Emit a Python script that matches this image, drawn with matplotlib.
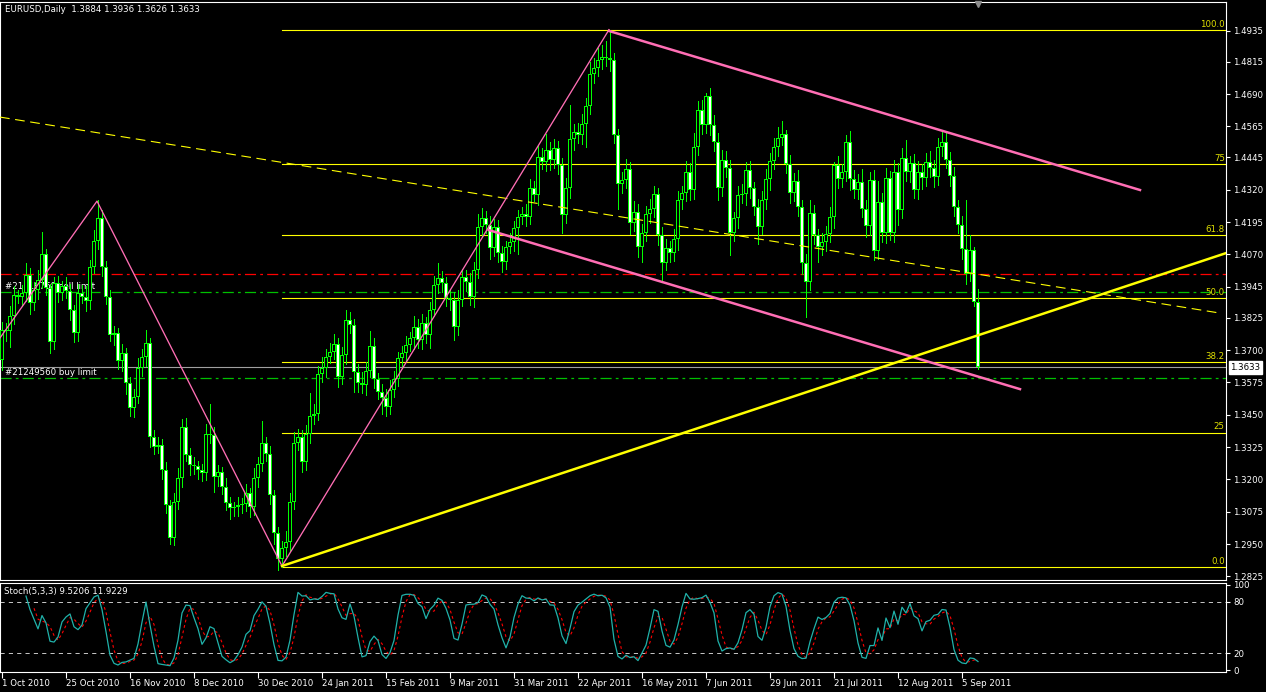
import numpy as np
import pandas as pd
import matplotlib
matplotlib.use("Agg")
import matplotlib.pyplot as plt
from matplotlib.transforms import blended_transform_factory

plt.rcParams['font.family'] = 'DejaVu Sans'
plt.rcParams['lines.scale_dashes'] = False

# daily EURUSD closes, 1 Oct 2010 .. 9 Sep 2011
closes = [
    1.3778, 1.3772, 1.3830, 1.3913, 1.3907, 1.3920, 1.3991, 1.3881, 1.3933, 1.3971,
    1.4072, 1.3939, 1.3733, 1.3958, 1.3920, 1.3946, 1.3930, 1.3855, 1.3765, 1.3920,
    1.3907, 1.3888, 1.4023, 1.4120, 1.4210, 1.4023, 1.3907, 1.3759, 1.3765, 1.3656,
    1.3688, 1.3572, 1.3475, 1.3520, 1.3630, 1.3675, 1.3726, 1.3365, 1.3327, 1.3333,
    1.3237, 1.3101, 1.2972, 1.3114, 1.3204, 1.3404, 1.3295, 1.3256, 1.3250, 1.3236,
    1.3223, 1.3375, 1.3371, 1.3210, 1.3229, 1.3172, 1.3107, 1.3088, 1.3092, 1.3101,
    1.3104, 1.3146, 1.3094, 1.3204, 1.3258, 1.3339, 1.3300, 1.3139, 1.2991, 1.2894,
    1.2933, 1.2959, 1.3114, 1.3339, 1.3365, 1.3268, 1.3375, 1.3445, 1.3453, 1.3607,
    1.3629, 1.3674, 1.3694, 1.3723, 1.3597, 1.3681, 1.3816, 1.3797, 1.3616, 1.3574,
    1.3565, 1.3619, 1.3715, 1.3587, 1.3539, 1.3513, 1.3481, 1.3545, 1.3590, 1.3668,
    1.3687, 1.3720, 1.3745, 1.3790, 1.3739, 1.3803, 1.3758, 1.3855, 1.3952, 1.3977,
    1.3958, 1.3900, 1.3894, 1.3790, 1.3894, 1.3984, 1.3964, 1.3906, 1.4010, 1.4177,
    1.4209, 1.4184, 1.4093, 1.4177, 1.4074, 1.4042, 1.4100, 1.4119, 1.4171, 1.4216,
    1.4225, 1.4216, 1.4325, 1.4300, 1.4448, 1.4429, 1.4474, 1.4435, 1.4480, 1.4416,
    1.4222, 1.4325, 1.4515, 1.4545, 1.4532, 1.4574, 1.4644, 1.4768, 1.4790, 1.4820,
    1.4835, 1.4830, 1.4820, 1.4531, 1.4344, 1.4357, 1.4402, 1.4190, 1.4235, 1.4099,
    1.4151, 1.4228, 1.4244, 1.4303, 1.4145, 1.4038, 1.4093, 1.4074, 1.4128, 1.4280,
    1.4306, 1.4390, 1.4319, 1.4486, 1.4628, 1.4570, 1.4682, 1.4570, 1.4506, 1.4325,
    1.4435, 1.4406, 1.4151, 1.4209, 1.4299, 1.4302, 1.4396, 1.4325, 1.4254, 1.4177,
    1.4280, 1.4360, 1.4431, 1.4486, 1.4522, 1.4535, 1.4419, 1.4308, 1.4355, 1.4252,
    1.4038, 1.3964, 1.4231, 1.4145, 1.4097, 1.4119, 1.4148, 1.4213, 1.4415, 1.4360,
    1.4390, 1.4506, 1.4360, 1.4319, 1.4351, 1.4244, 1.4179, 1.4357, 1.4084, 1.4273,
    1.4154, 1.4364, 1.4154, 1.4390, 1.4241, 1.4441, 1.4390, 1.4422, 1.4319, 1.4390,
    1.4364, 1.4428, 1.4406, 1.4370, 1.4486, 1.4506, 1.4435, 1.4373, 1.4252, 1.4183,
    1.4089, 1.3996, 1.4087, 1.3884, 1.3633,
]
first_open = 1.3662

# wick lengths above / below the body, in pips
up_pips = [
    30, 25, 40, 35, 20, 30, 45, 25, 30, 40,
    86, 20, 15, 25, 30, 20, 35, 25, 20, 35,
    30, 40, 25, 45, 70, 30, 20, 25, 30, 20,
    35, 20, 25, 30, 40, 30, 52, 20, 25, 30,
    25, 30, 20, 35, 40, 30, 35, 25, 30, 20,
    25, 40, 116, 30, 25, 20, 35, 25, 20, 30,
    25, 35, 20, 40, 30, 88, 25, 30, 20, 25,
    30, 40, 35, 45, 30, 25, 35, 88, 40, 30,
    45, 30, 35, 40, 25, 30, 39, 30, 25, 30,
    40, 35, 60, 30, 25, 30, 35, 40, 30, 25,
    30, 35, 25, 40, 30, 35, 25, 30, 35, 58,
    30, 25, 35, 30, 40, 30, 25, 35, 30, 50,
    40, 30, 35, 30, 25, 30, 20, 35, 30, 25,
    30, 40, 35, 30, 40, 35, 60, 30, 35, 30,
    25, 40, 133, 30, 35, 40, 30, 45, 40, 50,
    45, 60, 109, 30, 25, 30, 35, 25, 40, 30,
    35, 30, 40, 30, 25, 30, 35, 30, 40, 35,
    30, 40, 35, 55, 35, 40, 13, 30, 40, 35,
    40, 35, 30, 25, 35, 40, 30, 35, 25, 30,
    35, 40, 30, 35, 40, 50, 15, 35, 30, 40,
    30, 35, 49, 30, 25, 35, 30, 40, 13, 35,
    30, 26, 40, 35, 30, 50, 35, 30, 40, 80,
    35, 40, 30, 45, 35, 40, 71, 30, 35, 40,
    30, 35, 40, 30, 35, 39, 40, 30, 35, 30,
    35, 191, 58, 13, 52,
]
dn_pips = [
    40, 35, 60, 30, 25, 35, 30, 40, 25, 35,
    30, 25, 45, 30, 35, 25, 30, 40, 35, 30,
    25, 35, 30, 25, 30, 35, 30, 25, 40, 30,
    35, 40, 30, 35, 25, 30, 35, 40, 30, 25,
    35, 30, 20, 25, 30, 35, 25, 40, 30, 35,
    30, 25, 30, 58, 35, 30, 25, 40, 30, 35,
    30, 25, 40, 30, 35, 25, 30, 35, 40, 45,
    32, 30, 35, 30, 25, 40, 30, 35, 30, 25,
    30, 35, 25, 30, 40, 30, 35, 30, 80, 35,
    30, 40, 25, 35, 30, 60, 35, 30, 25, 30,
    35, 30, 25, 40, 30, 35, 30, 50, 25, 30,
    35, 30, 40, 52, 30, 25, 35, 30, 40, 30,
    35, 30, 39, 30, 35, 40, 30, 25, 35, 100,
    30, 35, 30, 25, 40, 30, 35, 40, 30, 35,
    71, 30, 35, 40, 30, 35, 88, 30, 35, 30,
    35, 30, 40, 30, 97, 35, 30, 40, 30, 39,
    60, 30, 35, 30, 40, 67, 30, 35, 30, 40,
    35, 30, 40, 35, 30, 35, 30, 40, 35, 45,
    30, 35, 84, 30, 35, 30, 40, 35, 30, 65,
    30, 35, 40, 30, 35, 30, 35, 40, 30, 35,
    45, 135, 30, 35, 55, 30, 35, 30, 40, 35,
    30, 35, 40, 30, 35, 30, 40, 35, 36, 30,
    35, 40, 30, 35, 58, 30, 35, 40, 30, 35,
    40, 30, 35, 40, 30, 35, 30, 40, 35, 30,
    35, 40, 30, 14, 7,
]

date_ticks = list(range(0, 241, 16))
date_labels = ["1 Oct 2010", "25 Oct 2010", "16 Nov 2010", "8 Dec 2010", "30 Dec 2010",
               "24 Jan 2011", "15 Feb 2011", "9 Mar 2011", "31 Mar 2011", "22 Apr 2011",
               "16 May 2011", "7 Jun 2011", "29 Jun 2011", "21 Jul 2011", "12 Aug 2011",
               "5 Sep 2011"]
price_ticks = [1.4935, 1.4815, 1.4690, 1.4565, 1.4445, 1.4320, 1.4195, 1.4070, 1.3945,
               1.3825, 1.3700, 1.3575, 1.3450, 1.3325, 1.3200, 1.3075, 1.2950, 1.2825]

# fibonacci from the January low to the May high
fib_start_bar = 70
fib_low, fib_high = 1.2862, 1.4939
fib_levels = [0.0, 25.0, 38.2, 50.0, 61.8, 75.0, 100.0]
fib_labels = ["0.0", "25", "38.2", "50.0", "61.8", "75", "100.0"]

# trendline anchors (bar index, price)
zigzag_bars = [-0.5, 23.75, 70, 151.75]
zigzag_prices = [1.3747, 1.4276, 1.2865, 1.4939]
chan_up_bars, chan_up_prices = [151.75, 284.5], [1.4934, 1.4319]
chan_dn_bars, chan_dn_prices = [121.7, 254.5], [1.4164, 1.3549]
trend_bars, trend_prices = [70, 306], [1.2865, 1.4075]
dash_bars, dash_prices = [-0.5, 304.5], [1.4601, 1.3843]

red_level = 1.3996
sell_level = 1.3925
buy_level = 1.3592
bid = 1.3633

n = len(closes)
x = np.arange(n)
c = np.array(closes)
o = np.array([first_open] + closes[:-1])
o[-1] = 1.3884
h = np.maximum(o, c) + np.array(up_pips) / 10000
l = np.minimum(o, c) - np.array(dn_pips) / 10000

# Stochastic(5,3,3) as MT4 computes it
hh = pd.Series(h).rolling(5).max()
ll = pd.Series(l).rolling(5).min()
k = 100 * (pd.Series(c) - ll).rolling(3).sum() / (hh - ll).rolling(3).sum()
d = k.rolling(3).mean()

W, H = 1266, 692
fig = plt.figure(figsize=(W / 100, H / 100), dpi=100, facecolor='black')
ax = fig.add_axes([0, 1 - 580 / H, 1226 / W, 578 / H], facecolor='black')
sax = fig.add_axes([0, 1 - 672 / H, 1226 / W, 89 / H], facecolor='black')

fs = 6.2
lime = '#00FF00'

# candles: lime wick + 3px lime body with a 1px white (bear) / black (bull) core
ax.vlines(x, l, h, color=lime, lw=0.72, zorder=4, antialiased=False)
body_lo = np.minimum(o, c)
body_h = np.maximum(np.abs(c - o), 0.0003)
ax.bar(x, body_h, 0.85, bottom=body_lo, color=lime, linewidth=0, zorder=5, antialiased=False)
px = 0.0003867  # price per pixel
core_h = np.maximum(body_h - 2 * px, 0)
bull = c >= o
ax.bar(x, core_h, 0.3, bottom=body_lo + px, color=np.where(bull, 'black', 'white'),
       linewidth=0, zorder=6, antialiased=False)

# fibonacci levels
rng = fib_high - fib_low
for lev, lab in zip(fib_levels, fib_labels):
    p = fib_low + rng * lev / 100
    ax.plot([fib_start_bar, 306], [p, p], color='#FFFF00', lw=0.8, zorder=3)
    ax.text(305.7, p + 0.0004, lab, color='#E0E000', fontsize=fs, ha='right', va='bottom', zorder=3)

# order / price lines
ax.axhline(red_level, color='#FF0000', lw=0.9, dashes=(8, 3, 2, 3), zorder=2)
ax.axhline(sell_level, color='#00C000', lw=0.9, dashes=(8, 3, 2, 3), zorder=2)
ax.axhline(buy_level, color='#00C000', lw=0.9, dashes=(8, 3, 2, 3), zorder=2)
ax.axhline(bid, color='#A0A0A0', lw=0.8, zorder=2)
ax.text(0.8, sell_level + 0.0005, "#21119768 sell limit", color='white', fontsize=fs, va='bottom', zorder=2)
ax.text(0.8, buy_level + 0.0005, "#21249560 buy limit", color='white', fontsize=fs, va='bottom', zorder=2)

# trendlines
ax.plot(dash_bars, dash_prices, color='#FFFF00', lw=0.8, dashes=(7, 4), zorder=7)
ax.plot(zigzag_bars, zigzag_prices, color='#FF6EB4', lw=0.95, zorder=8)
ax.plot(chan_up_bars, chan_up_prices, color='#FF6EB4', lw=1.8, zorder=8)
ax.plot(chan_dn_bars, chan_dn_prices, color='#FF6EB4', lw=1.8, zorder=8)
ax.plot(trend_bars, trend_prices, color='#FFFF00', lw=1.8, zorder=8)

ax.set_xlim(-0.5, 306)
ax.set_ylim(1.28109, 1.50460)
ax.set_xticks([])
ax.yaxis.tick_right()
ax.set_yticks(price_ticks)
ax.set_yticklabels([f"{p:.4f}" for p in price_ticks])
ax.tick_params(axis='y', colors='white', labelsize=fs, length=3, width=0.8, pad=2)
for s in ax.spines.values():
    s.set_color('white')
    s.set_linewidth(0.8)

trans = blended_transform_factory(ax.transAxes, ax.transData)
ax.text(1.0035, bid, f"{bid:.4f}", transform=trans, color='black', fontsize=fs, va='center',
        ha='left', bbox=dict(boxstyle='square,pad=0.2', fc='white', ec='white'), zorder=10, clip_on=False)
ax.plot(244, 1.5040, marker='v', color='#8C8C8C', ms=4.5, clip_on=False, zorder=10)

fig.text(5 / W, 1 - 10 / H, f"EURUSD,Daily  {o[-1]:.4f} {h[-1]:.4f} {l[-1]:.4f} {c[-1]:.4f}",
         color='white', fontsize=fs, va='center')

# stochastic pane
sax.plot(x, k, color='#20B2AA', lw=0.9, zorder=3)
sax.plot(x, d, color='#FF0000', lw=0.8, dashes=(2, 2), zorder=2)
for lev in (20, 80):
    sax.axhline(lev, color='#C8C8C8', lw=0.7, dashes=(3, 3), zorder=1)
sax.set_xlim(-0.5, 306)
sax.set_ylim(-2.35, 102.35)
sax.yaxis.tick_right()
sax.set_yticks([0, 20, 80, 100])
sax.set_yticklabels(["0", "20", "80", "100"])
sax.tick_params(axis='y', colors='white', labelsize=fs, length=3, width=0.8, pad=2)
sax.set_xticks(date_ticks)
sax.set_xticklabels(date_labels, ha='left')
sax.tick_params(axis='x', colors='white', labelsize=fs, length=4, width=0.8, pad=1)
for s in sax.spines.values():
    s.set_color('white')
    s.set_linewidth(0.8)
sax.text(4 / 1226, 0.9, "Stoch(5,3,3) 9.5206 11.9229", transform=sax.transAxes,
         color='white', fontsize=fs, va='center')

fig.savefig("out.png", dpi=100, facecolor='black')
